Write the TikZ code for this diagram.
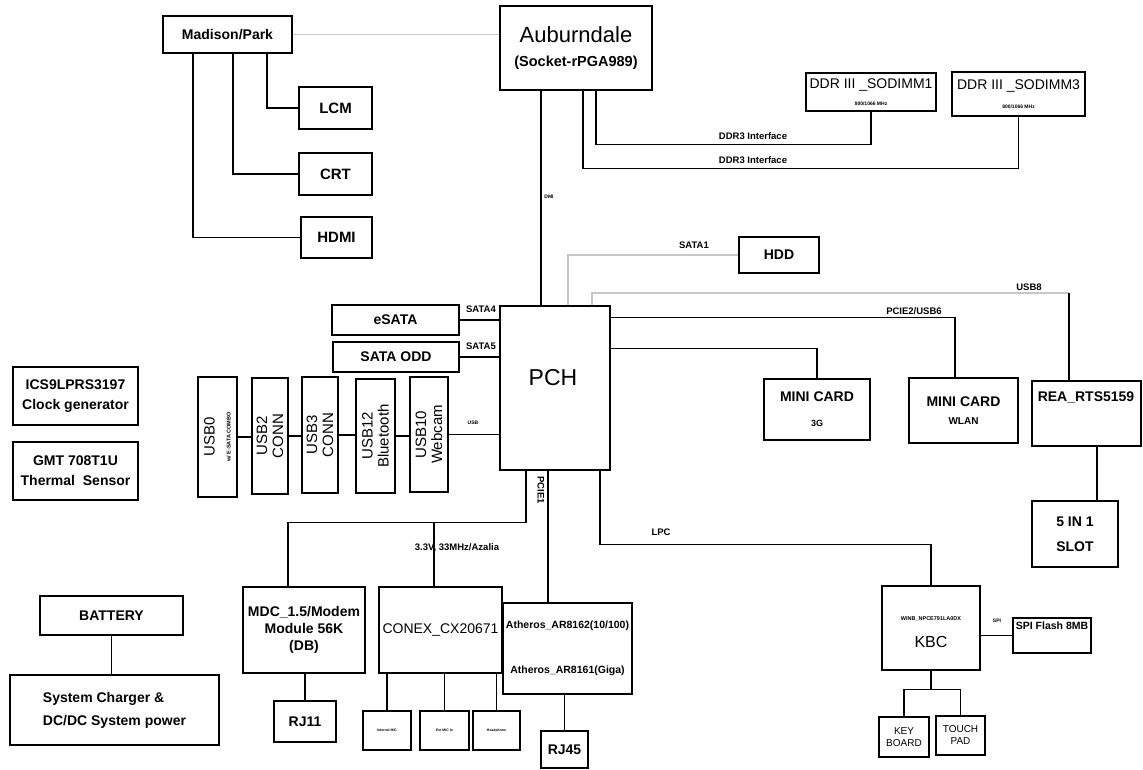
\documentclass[tikz,border=0pt]{standalone}
\usepackage{fontspec}
\setmainfont{Liberation Sans}

\begin{document}
\begin{tikzpicture}[x=1pt,y=-1pt,
  box/.style={draw,line width=1.2pt,inner sep=0pt,align=center},
  sz/.style 2 args={minimum width=#1pt,minimum height=#2pt},
  big/.style={font=\fontsize{14}{17}\selectfont\bfseries},
  reg/.style={font=\fontsize{14}{16}\selectfont},
  lbl/.style={font=\fontsize{9.5}{11}\selectfont\bfseries,inner sep=1pt},
  tiny/.style={font=\fontsize{5}{6}\selectfont\bfseries,inner sep=0pt},
  wire/.style={line width=1.3pt},
  gwire/.style={line width=1.3pt,black!22}]
\useasboundingbox (0,0) rectangle (1143,770);

\node[box,big,sz={129}{37}](mp) at (227.5,34.5){Madison/Park};
\node[box,sz={152}{84},font=\fontsize{22}{24}\selectfont](aub) at (576,48){Auburndale\\{\fontsize{14.5}{16}\selectfont\bfseries (Socket-rPGA989)}};
\node[box,big,font=\fontsize{15}{17}\selectfont\bfseries,sz={73}{42}](lcm) at (335.5,108){LCM};
\node[box,big,font=\fontsize{15}{17}\selectfont\bfseries,sz={73}{42}](crt) at (335.5,174){CRT};
\node[box,big,font=\fontsize{15}{17}\selectfont\bfseries,sz={71}{41}](hdmi) at (336.5,237.5){HDMI};
\node[box,reg,sz={130}{38}](dimm1) at (871,92){DDR III \_SODIMM1\\[1pt]{\fontsize{5}{6}\selectfont\bfseries 800/1066 MHz}};
\node[box,reg,sz={133}{44}](dimm3) at (1018.5,94){DDR III \_SODIMM3\\[3pt]{\fontsize{5}{6}\selectfont\bfseries 800/1066 MHz}};

\node[box,big,sz={80}{36}](hdd) at (779,255){HDD};
\node[box,big,sz={127}{30}](esata) at (395.5,320){eSATA};
\node[box,big,sz={126}{30}](odd) at (396,357){SATA ODD};
\node[box,sz={110}{164}](pch) at (555,388){};
\node[font=\fontsize{23}{26}\selectfont](pchtxt) at (553,378){PCH};

\node[box,rotate=90,sz={120}{39},font=\fontsize{15}{16}\selectfont](usb0) at (217.5,437){USB0\\{\fontsize{5.5}{6}\selectfont\bfseries w/ E-SATA COMBO}};
\node[box,rotate=90,sz={116}{36},font=\fontsize{15}{16}\selectfont](usb2) at (270,436){USB2\\CONN};
\node[box,rotate=90,sz={116}{36},font=\fontsize{15}{16}\selectfont](usb3) at (320,435){USB3\\CONN};
\node[box,rotate=90,sz={114}{39},font=\fontsize{15}{16}\selectfont](usb12) at (375.5,436){USB12\\Bluetooth};
\node[box,rotate=90,sz={115}{38},font=\fontsize{15}{16}\selectfont](usb10) at (429,434.5){USB10\\Webcam};

\node[box,big,sz={125}{58}](ics) at (75.5,396){ICS9LPRS3197\\[3pt]Clock generator};
\node[box,big,sz={125}{58}](gmt) at (75.5,471){GMT 708T1U\\[3pt]Thermal\ \ Sensor};

\node[box,big,sz={106}{61}](mc3g) at (817,409.5){MINI CARD\\[8pt]{\fontsize{9}{10}\selectfont 3G}};
\node[box,big,sz={109}{65}](mcwlan) at (963.5,410.5){MINI CARD\\[1pt]{\fontsize{10}{11}\selectfont WLAN}};
\node[box,sz={109}{65}](rea) at (1086.5,413.5){};
\node[big](reatxt) at (1086,397){REA\_RTS5159};
\node[box,big,sz={86}{66}](slot) at (1075,534){5 IN 1\\[8pt]SLOT};

\node[box,big,sz={122}{86}](mdc) at (304,630){MDC\_1.5/Modem\\Module 56K\\(DB)};
\node[box,reg,sz={123}{86}](conex) at (440.5,630){CONEX\_CX20671};
\node[box,sz={129}{91},font=\fontsize{10.5}{12.5}\selectfont\bfseries](ath) at (567.5,648.5){Atheros\_AR8162(10/100)\\[33pt]Atheros\_AR8161(Giga)};
\node[box,big,sz={62}{41}](rj11) at (305,721.5){RJ11};
\node[box,sz={48}{39},font=\fontsize{3.5}{4}\selectfont\bfseries](s1) at (387,730.5){Internal MIC};
\node[box,sz={49}{39},font=\fontsize{3.5}{4}\selectfont\bfseries](s2) at (444.5,730.5){Ext MIC In};
\node[box,sz={47}{39},font=\fontsize{3.5}{4}\selectfont\bfseries](s3) at (496.5,730.5){Headphone};
\node[box,big,sz={47}{37}](rj45) at (564.5,749.5){RJ45};

\node[box,sz={98}{84}](kbc) at (931,628){};
\node[tiny,font=\fontsize{5.5}{6}\selectfont\bfseries](kbcchip) at (931,619){WINB\_NPCE791LA0DX};
\node[font=\fontsize{16}{18}\selectfont](kbctxt) at (931,642){KBC};
\node[box,sz={78}{35}](spi) at (1052,635.5){};
\node[font=\fontsize{10.5}{12}\selectfont\bfseries](spitxt) at (1052,626){SPI Flash 8MB};
\node[box,sz={50}{40},font=\fontsize{10}{12}\selectfont](kb) at (904,737){KEY\\BOARD};
\node[box,sz={49}{39},font=\fontsize{10}{12}\selectfont](tp) at (960.5,735.5){TOUCH\\PAD};

\node[box,big,sz={143}{39}](bat) at (111.5,615.5){BATTERY};
\node[box,big,align=left,sz={209}{70}](chg) at (114.5,710){System Charger \&\\[6pt]DC/DC System power};

\draw[gwire](mp.east) -- (mp.east -| aub.west);
\draw[wire]([xshift=39.5pt]mp.south) |- (lcm.west);
\draw[wire]([xshift=5.5pt]mp.south) |- (crt.west);
\draw[wire]([xshift=-34.5pt]mp.south) |- (hdmi.west);
\draw[wire](dimm1.south) -- ++(0,33) -| ([xshift=20pt]aub.south);
\draw[wire](dimm3.south) -- ++(0,52) -| ([xshift=7pt]aub.south);
\draw[wire]([xshift=-35pt]aub.south) -- ([xshift=-14pt]pch.north);
\draw[gwire]([xshift=13pt]pch.north) |- (hdd.west);
\coordinate (u8) at (1069,293);
\draw[gwire]([xshift=37pt]pch.north) |- (u8);
\draw[wire](u8) -- (u8 |- rea.north);
\draw[wire]([yshift=-12pt]pch.north east) -| ([xshift=-8.5pt]mcwlan.north);
\draw[wire]([yshift=-43pt]pch.north east) -| (mc3g.north);
\draw[wire](esata.east) -- (esata.east -| pch.west);
\draw[wire](odd.east) -- (odd.east -| pch.west);
\draw[wire](usb0.south) -- (usb0.south -| usb2.north);
\draw[wire](usb2.south) -- (usb2.south -| usb3.north);
\draw[wire](usb3.south) -- (usb3.south -| usb12.north);
\draw[wire](usb12.south) -- (usb12.south -| usb10.north);
\draw[wire](usb10.south) -- (usb10.south -| pch.west);
\draw[wire]([xshift=-29pt]pch.south) |- ([xshift=-16pt,yshift=64pt]mdc.north) -- ([xshift=-16pt]mdc.north);
\draw[wire]([xshift=-6.5pt]conex.north) -- ++(0,-64);
\draw[wire]([xshift=-7pt]pch.south) -- ([xshift=-19.5pt]ath.north);
\draw[wire]([xshift=45pt]pch.south) |- ([yshift=41pt]kbc.north) -- (kbc.north);
\draw[wire](rj11.north) -- (rj11.north |- mdc.south);
\draw[wire](s1.north) -- (s1.north |- conex.south);
\draw[wire](s2.north) -- (s2.north |- conex.south);
\draw[wire](s3.north) -- (s3.north |- conex.south);
\draw[wire](rj45.north) -- (rj45.north |- ath.south);
\draw[wire](kbc.east |- spi.west) -- (spi.west);
\draw[wire](kbc.south) -- ++(0,19);
\draw[wire](kb.north) |- ([yshift=-19pt]kbc.south) -| (tp.north);
\draw[wire](bat.south) -- (bat.south |- chg.north);
\draw[wire]([xshift=10.5pt]rea.south) -- ([xshift=22pt]slot.north);

\node[lbl](ddr1) at (753,136){DDR3 Interface};
\node[lbl](ddr2) at (753,160){DDR3 Interface};
\node[tiny](dmi) at (549,197){DMI};
\node[lbl](sata1) at (694,245){SATA1};
\node[lbl](usb8) at (1029,287){USB8};
\node[lbl](pcie2) at (914,311){PCIE2/USB6};
\node[lbl](sata4) at (481,309){SATA4};
\node[lbl](sata5) at (481,346){SATA5};
\node[tiny](usbl) at (473,423){USB};
\node[lbl](azl) at (457,548){3.3V, 33MHz/Azalia};
\node[lbl,rotate=-90](pcie1) at (541,490){PCIE1};
\node[lbl](lpc) at (661,532){LPC};
\node[tiny](spil) at (997,621){SPI};
\end{tikzpicture}
\end{document}
